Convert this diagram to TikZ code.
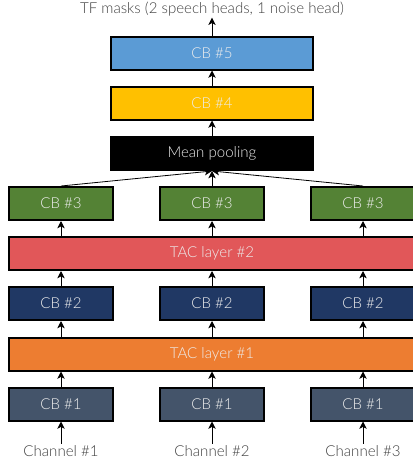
\documentclass[tikz,border=0pt]{standalone}
\usepackage{fontspec}
\setmainfont{Lato Light}
\usepackage{tikz}
\usetikzlibrary{positioning,arrows.meta}
\definecolor{cbone}{HTML}{44546A}
\definecolor{cbtwo}{HTML}{203864}
\definecolor{cbthree}{HTML}{548235}
\definecolor{cbfour}{HTML}{FFC000}
\definecolor{cbfive}{HTML}{5B9BD5}
\definecolor{tacone}{HTML}{ED7D31}
\definecolor{tactwo}{HTML}{E15759}
\definecolor{labelgray}{HTML}{404040}

\begin{document}
\begin{tikzpicture}[x=0.75pt,y=-0.75pt,
  box/.style={draw=black,line width=1.5pt,text=white!93!black,inner sep=0pt,
    minimum height=24.75pt,font=\fontsize{11.3}{13}\selectfont},
  cb/.style={box,minimum width=78pt},
  wide/.style={box,minimum width=151.5pt},
  tac/.style={box,minimum width=304.5pt},
  lbl/.style={text=labelgray,inner sep=1pt,font=\fontsize{11.3}{13}\selectfont},
  conn/.style={-{Stealth[length=5.5pt,width=5.5pt,inset=1.5pt]},line width=0.6pt}]
\useasboundingbox (0,0) rectangle (413,461);

\node[lbl] (out) at (212,9) {TF masks (2 speech heads, 1 noise head)};
\node[wide,fill=cbfive] (cb5) at (212,53) {CB \#5};
\node[wide,fill=cbfour] (cb4) at (212,103) {CB \#4};
\node[wide,fill=black] (pool) at (212,153.5) {Mean pooling};
\node[tac,fill=tactwo] (tac2) at (212,253.5) {TAC layer \#2};
\node[tac,fill=tacone] (tac1) at (212,354) {TAC layer \#1};

\foreach \c/\x in {1/61,2/212,3/363} {
  \node[lbl] (ch\c) at (\x,451) {Channel \#\c};
  \node[cb,fill=cbone] (cbone\c) at (\x,404) {CB \#1};
  \node[cb,fill=cbtwo] (cbtwo\c) at (\x,303.5) {CB \#2};
  \node[cb,fill=cbthree] (cbthree\c) at (\x,203.5) {CB \#3};
  \draw[conn] (ch\c) -- (cbone\c);
  \draw[conn] (cbone\c) -- (cbone\c.north |- tac1.south);
  \draw[conn] (cbone\c.north |- tac1.north) -- (cbtwo\c);
  \draw[conn] (cbtwo\c) -- (cbtwo\c.north |- tac2.south);
  \draw[conn] (cbtwo\c.north |- tac2.north) -- (cbthree\c);
  \draw[conn] (cbthree\c.north) -- (pool.south);
}
\draw[conn] (pool) -- (cb4);
\draw[conn] (cb4) -- (cb5);
\draw[conn] (cb5) -- (out);
\end{tikzpicture}
\end{document}
